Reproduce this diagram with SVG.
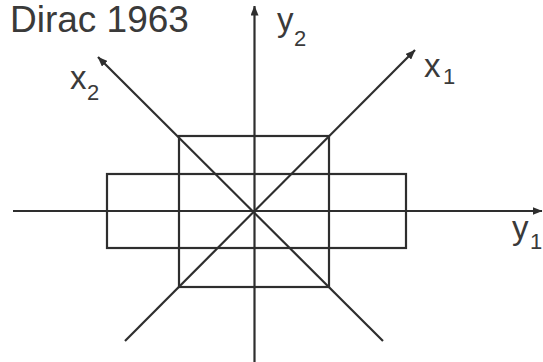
<svg xmlns="http://www.w3.org/2000/svg" width="543" height="362" viewBox="0 0 543 362">
<defs>
<style>
.ln{stroke:#2e2e2e;stroke-width:2.2;fill:none;stroke-linecap:butt}
.t{font-family:"Liberation Sans",Arial,sans-serif;fill:#3a3a3a}
.big{font-size:37px}
.lab{font-size:33px}
.sub{font-size:22px}
</style>
<marker id="ah" viewBox="0 0 10 8" refX="9.5" refY="4" markerWidth="10" markerHeight="8" markerUnits="userSpaceOnUse" orient="auto">
<path d="M0,0 L10,4 L0,8 Z" fill="#2e2e2e"/>
</marker>
</defs>
<rect width="543" height="362" fill="#ffffff"/>
<g id="title"><text class="t big" x="10" y="32">Dirac 1963</text></g>
<g id="connectors">
<line class="ln" x1="13" y1="211" x2="542" y2="211" marker-end="url(#ah)"/>
<line class="ln" x1="254.5" y1="362" x2="254.5" y2="6" marker-end="url(#ah)"/>
<line class="ln" x1="125" y1="341" x2="415" y2="50" marker-end="url(#ah)"/>
<line class="ln" x1="383" y1="341" x2="98" y2="57" marker-end="url(#ah)"/>
</g>
<g id="square"><rect class="ln" x="179" y="136" width="150" height="151"/></g>
<g id="wide-rect"><rect class="ln" x="107" y="174" width="299" height="74"/></g>
<g id="label-x1"><text class="t lab" x="424" y="77">x</text><text class="t sub" x="443" y="84">1</text></g>
<g id="label-x2"><text class="t lab" x="70" y="89">x</text><text class="t sub" x="87" y="100">2</text></g>
<g id="label-y1"><text class="t lab" x="512" y="239">y</text><text class="t sub" x="530" y="249">1</text></g>
<g id="label-y2"><text class="t lab" x="277" y="31">y</text><text class="t sub" x="294" y="46">2</text></g>
</svg>
